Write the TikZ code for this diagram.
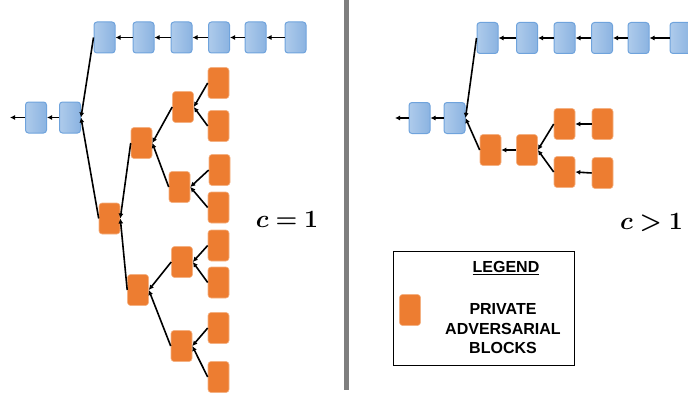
\documentclass[tikz,border=0pt]{standalone}
\usepackage{fontspec}
\usepackage{bm}
\newfontfamily\legendfont{Liberation Sans}
\usetikzlibrary{arrows.meta}
\definecolor{bluel}{HTML}{AECBEB}
\definecolor{bluer}{HTML}{8BB3E1}
\definecolor{blueb}{HTML}{6FA3DC}
\definecolor{orangef}{HTML}{ED7D31}
\definecolor{orangeb}{HTML}{F4B183}
\definecolor{bargray}{HTML}{7F7F7F}
\tikzset{
  blk/.style={minimum width=21pt,minimum height=31pt,inner sep=0pt,rounded corners=3pt},
  pub/.style={blk,left color=bluel,right color=bluer,draw=blueb,line width=1pt},
  priv/.style={blk,fill=orangef,draw=orangeb,line width=0.6pt},
  conn/.style={line width=1.6pt,-{Latex[length=5pt,width=5pt]}},
  lbl/.style={font=\fontsize{24}{28}\selectfont},
  legtxt/.style={font=\legendfont\bfseries\fontsize{16}{19.5}\selectfont,align=center,inner sep=0pt}
}
\begin{document}
\begin{tikzpicture}[x=1pt,y=-1pt]
\useasboundingbox (0,0) rectangle (688,396);
% divider
\fill[bargray] (344.3,0) rectangle (349.3,390);
% ---------- left panel ----------
\coordinate (bL) at (10,117.5);
\node[pub] (b1) at (36,117.5) {};
\node[pub] (b2) at (70,117.5) {};
\node[pub] (t1) at (104.5,37.5) {};
\node[pub] (t2) at (143.5,37.5) {};
\node[pub] (t3) at (181.5,37.5) {};
\node[pub] (t4) at (219,37.5) {};
\node[pub] (t5) at (255.5,37.5) {};
\node[pub] (t6) at (295.5,37.5) {};
\node[priv] (o1) at (109.5,218.5) {};
\node[priv] (o2) at (141.5,143) {};
\node[priv] (o3) at (138,290) {};
\node[priv] (o4) at (183,107) {};
\node[priv] (o5) at (179.5,187) {};
\node[priv] (o6) at (182,262) {};
\node[priv] (o7) at (181.5,346) {};
\node[priv] (l1) at (218.5,83) {};
\node[priv] (l2) at (218.5,126) {};
\node[priv] (l3) at (219.5,170) {};
\node[priv] (l4) at (218.5,207.5) {};
\node[priv] (l5) at (218.5,245.5) {};
\node[priv] (l6) at (218.5,282.5) {};
\node[priv] (l7) at (218.5,328) {};
\node[priv] (l8) at (218.5,377) {};
\draw[conn] (b1.west) -- (bL);
\draw[conn] (b2.west) -- (b1.east);
\draw[conn] (t1.west) -- (b2.east);
\draw[conn] (t2.west) -- (t1.east);
\draw[conn] (t3.west) -- (t2.east);
\draw[conn] (t4.west) -- (t3.east);
\draw[conn] (t5.west) -- (t4.east);
\draw[conn] (t6.west) -- (t5.east);
\draw[conn] (o1.west) -- (b2.east);
\draw[conn] (o2.west) -- (o1.east);
\draw[conn] (o3.west) -- (o1.east);
\draw[conn] (o4.west) -- (o2.east);
\draw[conn] (o5.west) -- (o2.east);
\draw[conn] (o6.west) -- (o3.east);
\draw[conn] (o7.west) -- (o3.east);
\draw[conn] (l1.west) -- (o4.east);
\draw[conn] (l2.west) -- (o4.east);
\draw[conn] (l3.west) -- (o5.east);
\draw[conn] (l4.west) -- (o5.east);
\draw[conn] (l5.west) -- (o6.east);
\draw[conn] (l6.west) -- (o6.east);
\draw[conn] (l7.west) -- (o7.east);
\draw[conn] (l8.west) -- (o7.east);
\node[lbl] (c1) at (287,219) {$\bm{c=1}$};
% ---------- right panel ----------
\coordinate (BL) at (395,118);
\node[pub] (B1) at (419.5,118) {};
\node[pub] (B2) at (454.5,118) {};
\node[pub] (T1) at (487.5,38) {};
\node[pub] (T2) at (527,38) {};
\node[pub] (T3) at (564.5,38) {};
\node[pub] (T4) at (602,38) {};
\node[pub] (T5) at (638.5,38) {};
\node[pub] (T6) at (680.5,38) {};
\node[priv] (P1) at (490.5,150) {};
\node[priv] (P2) at (527,150) {};
\node[priv] (P3) at (564.5,124) {};
\node[priv] (P4) at (564.5,172) {};
\node[priv] (P5) at (602.5,124) {};
\node[priv] (P6) at (602.5,173) {};
\draw[conn] (B1.west) -- (BL);
\draw[conn] (B2.west) -- (B1.east);
\draw[conn] (T1.west) -- (B2.east);
\draw[conn] (T2.west) -- (T1.east);
\draw[conn] (T3.west) -- (T2.east);
\draw[conn] (T4.west) -- (T3.east);
\draw[conn] (T5.west) -- (T4.east);
\draw[conn] (T6.west) -- (T5.east);
\draw[conn] (P1.west) -- (B2.east);
\draw[conn] (P2.west) -- (P1.east);
\draw[conn] (P3.west) -- (P2.east);
\draw[conn] (P4.west) -- (P2.east);
\draw[conn] (P5.west) -- (P3.east);
\draw[conn] (P6.west) -- (P4.east);
\node[lbl] (c2) at (651.5,223) {$\bm{c>1}$};
% ---------- legend ----------
\node[draw,line width=1pt,minimum width=181pt,minimum height=114pt,inner sep=0pt] (leg) at (483.5,308) {};
\node[legtxt] (legt) at (506,268) {\underline{LEGEND}};
\node[priv] (legb) at (410,310) {};
\node[legtxt] (legd) at (503,329) {PRIVATE\\ADVERSARIAL\\BLOCKS};
\end{tikzpicture}
\end{document}
